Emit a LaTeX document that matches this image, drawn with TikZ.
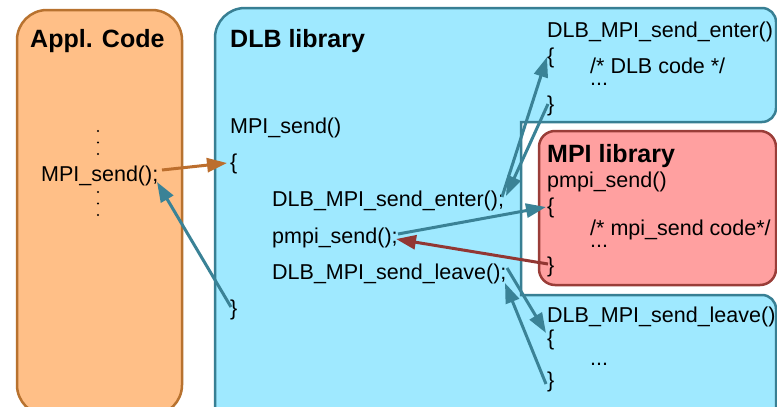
\documentclass[tikz,border=0pt]{standalone}
\usepackage{fontspec}
\setmainfont{Liberation Sans}
\usetikzlibrary{arrows.meta}

\definecolor{applfill}{HTML}{FFBF87}
\definecolor{applline}{HTML}{B8722F}
\definecolor{dlbfill}{HTML}{9FE9FF}
\definecolor{dlbline}{HTML}{387F93}
\definecolor{mpifill}{HTML}{FFA0A0}
\definecolor{mpiline}{HTML}{9A3D38}
\definecolor{callarrow}{HTML}{BC6E2D}
\definecolor{retarrow}{HTML}{923733}
\definecolor{flowarrow}{HTML}{3A8296}

\begin{document}
\begin{tikzpicture}[x=1pt,y=-1pt,
  code/.style={anchor=base west, inner sep=0pt, font=\fontsize{21.5}{26}\selectfont},
  % two-line bodies: the base anchor sits on the last line
  body/.style={anchor=base west, inner sep=0pt, align=left, font=\fontsize{21.5}{12.5}\selectfont},
  title/.style={anchor=base west, inner sep=0pt, font=\fontsize{25}{30}\selectfont\bfseries},
  elide/.style={circle, fill=black, inner sep=0pt, minimum size=2.4pt},
  tip/.style={-{Triangle[length=20pt 0 0,width=14pt 0 0]}},
  flow/.style={tip, draw=flowarrow, line width=3pt},
  callflow/.style={tip, draw=callarrow, line width=3pt},
  retflow/.style={tip, draw=retarrow, line width=3pt},
  box/.style={line width=2.5pt}]
\useasboundingbox (0,0) rectangle (777,407);
\fill[white] (0,0) rectangle (777,407);

% application code column
\path[box, draw=applline, fill=applfill, rounded corners=30pt]
  (17,10) rectangle (182,415);

% DLB library, with the cut-out that holds the MPI library
\path[box, draw=dlbline, fill=dlbfill]
  (215,440) [rounded corners=30pt] -- (215,8) [rounded corners=14pt] -- (776,8)
  -- (776,122) [sharp corners] -- (521,122) -- (521,295)
  [rounded corners=14pt] -- (776,295) [sharp corners] -- (776,440) -- cycle;

% MPI library
\path[box, draw=mpiline, fill=mpifill, rounded corners=16pt]
  (539,131) rectangle (776,285);

% titles
\node[title] (appltitle) at (30,47) {Appl. Code};
\node[title] (dlbtitle) at (230,47) {DLB library};
\node[title] (mpititle) at (547,162) {MPI library};

% application code, with vertical ellipses around the call
\foreach \i/\y in {1/131,2/142.5,3/154,4/192,5/203.5,6/215}
  \node[elide] (elide\i) at (98,\y) {};
\node[code] (appsend) at (41,181) {MPI\_send();};

% DLB wrapper of MPI_send
\node[code] (dlbsend) at (230,133) {MPI\_send()};
\node[code] (dlbopen) at (230,169) {\{};
\node[code] (callenter) at (272,206) {DLB\_MPI\_send\_enter();};
\node[code] (callpmpi) at (272,243) {pmpi\_send();};
\node[code] (callleave) at (272,279) {DLB\_MPI\_send\_leave();};
\node[code] (dlbclose) at (230,315) {\}};

% DLB enter hook
\node[code] (entername) at (547,37) {DLB\_MPI\_send\_enter()};
\node[code] (enteropen) at (547,63) {\{};
\node[body] (enterbody) at (590,85.5) {/* DLB code */\\...};
\node[code] (enterclose) at (547,111) {\}};

% MPI implementation
\node[code] (pmpiname) at (547,187) {pmpi\_send()};
\node[code] (pmpiopen) at (547,213) {\{};
\node[body] (pmpibody) at (590,247.5) {/* mpi\_send code*/\\...};
\node[code] (pmpiclose) at (547,272) {\}};

% DLB leave hook
\node[code] (leavename) at (547,322) {DLB\_MPI\_send\_leave()};
\node[code] (leaveopen) at (547,345) {\{};
\node[code] (leavedots) at (590,365) {...};
\node[code] (leaveclose) at (547,387) {\}};

% connector end points
\coordinate (p-appsend-out) at (162,170);
\coordinate (p-dlbopen-in) at (227,163);
\coordinate (p-dlbclose-out) at (231,307);
\coordinate (p-appsend-in) at (157,182);
\coordinate (p-enter-out) at (502,197);
\coordinate (p-enteropen-in) at (547,57);
\coordinate (p-enterclose-out) at (548,104);
\coordinate (p-enter-in) at (506,196);
\coordinate (p-pmpi-out) at (398,234);
\coordinate (p-pmpiopen-in) at (546,207);
\coordinate (p-pmpiclose-out) at (548,264);
\coordinate (p-pmpi-in) at (396,239);
\coordinate (p-leave-out) at (507,268);
\coordinate (p-leaveopen-in) at (546,333);
\coordinate (p-leaveclose-out) at (546,384);
\coordinate (p-leave-in) at (505,283);

% call flow
\draw[callflow] (p-appsend-out) -- (p-dlbopen-in);
\draw[flow] (p-dlbclose-out) -- (p-appsend-in);
\draw[flow] (p-enter-out) -- (p-enteropen-in);
\draw[flow] (p-enterclose-out) -- (p-enter-in);
\draw[flow] (p-pmpi-out) -- (p-pmpiopen-in);
\draw[retflow] (p-pmpiclose-out) -- (p-pmpi-in);
\draw[flow] (p-leave-out) -- (p-leaveopen-in);
\draw[flow] (p-leaveclose-out) -- (p-leave-in);
\end{tikzpicture}
\end{document}
